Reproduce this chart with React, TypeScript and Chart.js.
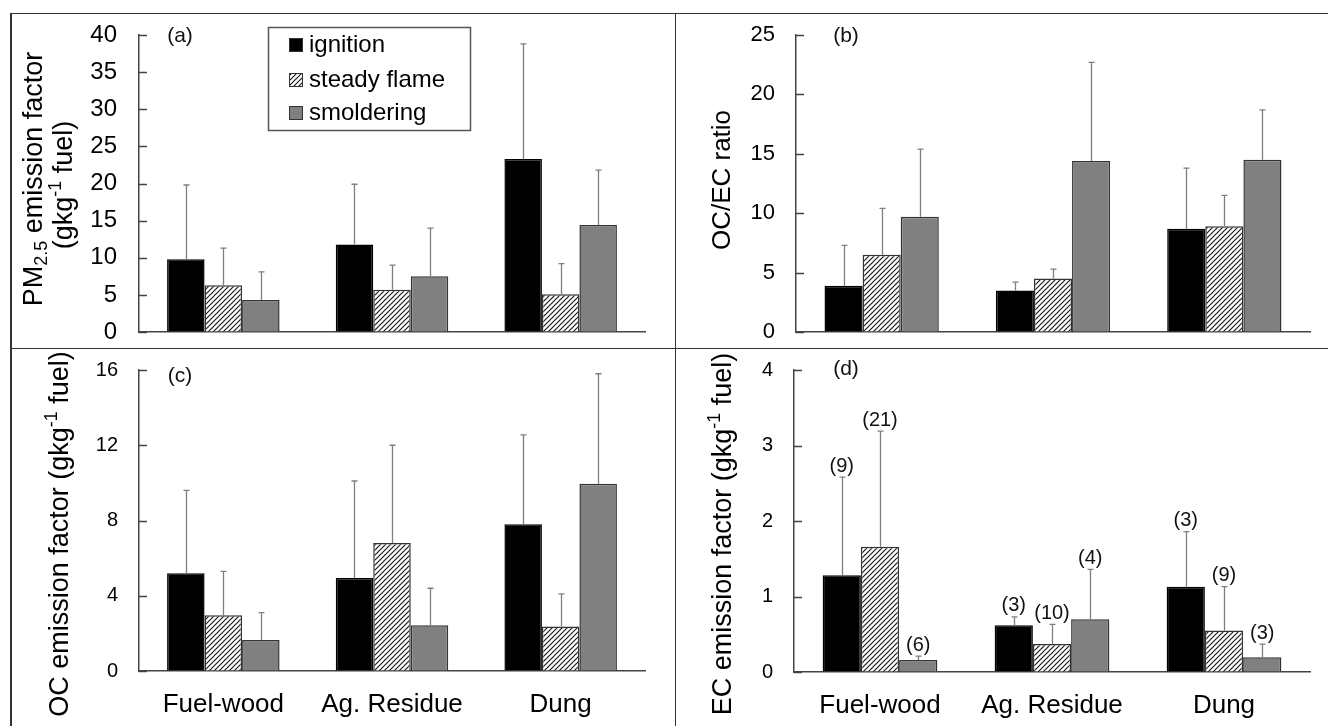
import React, { useEffect, useRef } from "react";
import { Chart, registerables } from "chart.js";

Chart.register(...registerables);

const FONT = "'Liberation Sans', Arial, Helvetica, sans-serif";

// ---------- data ----------
const categories = ["Fuel-wood", "Ag. Residue", "Dung"];
const seriesLabels = ["ignition", "steady flame", "smoldering"];

// (a) PM2.5 emission factor (g kg-1 fuel)
const pmIgnition = [9.8, 11.8, 23.3];
const pmSteady = [6.3, 5.7, 5.1];
const pmSmolder = [4.3, 7.5, 14.4];
const pmIgnitionSd = [10.0, 8.1, 15.5];
const pmSteadySd = [5.0, 3.3, 4.1];
const pmSmolderSd = [3.8, 6.5, 7.4];
const pmAxisMax = 40;
const pmAxisStep = 5;

// (b) OC/EC ratio
const ratioIgnition = [3.9, 3.5, 8.7];
const ratioSteady = [6.5, 4.5, 8.9];
const ratioSmolder = [9.7, 14.4, 14.5];
const ratioIgnitionSd = [3.4, 0.7, 5.1];
const ratioSteadySd = [3.9, 0.8, 2.6];
const ratioSmolderSd = [5.7, 8.3, 4.2];
const ratioAxisMax = 25;
const ratioAxisStep = 5;

// (c) OC emission factor
const ocIgnition = [5.2, 4.95, 7.8];
const ocSteady = [2.96, 6.8, 2.36];
const ocSmolder = [1.65, 2.43, 9.96];
const ocIgnitionSd = [4.4, 5.15, 4.75];
const ocSteadySd = [2.34, 5.2, 1.74];
const ocSmolderSd = [1.45, 1.97, 5.84];
const ocAxisMax = 16;
const ocAxisStep = 4;

// (d) EC emission factor
const ecIgnition = [1.28, 0.62, 1.13];
const ecSteady = [1.66, 0.37, 0.55];
const ecSmolder = [0.16, 0.7, 0.195];
const ecIgnitionSd = [1.3, 0.11, 0.73];
const ecSteadySd = [1.53, 0.26, 0.58];
const ecSmolderSd = [0.05, 0.66, 0.175];
const ecIgnitionN = [9, 3, 3];
const ecSteadyN = [21, 10, 9];
const ecSmolderN = [6, 4, 3];
const ecAxisMax = 4;
const ecAxisStep = 1;

// ---------- styling ----------
const IGN_COLOR = "#000000";
const SMOLD_COLOR = "#808080";
const AXIS_COLOR = "#444444";
const ERR_COLOR = "#7f7f7f";

type Seg = { t: string; s?: "sub" | "sup" };
type Box = { left: number; top: number; w: number; h: number };
type Area = { l: number; r: number; t: number; b: number };

type PanelSpec = {
  letter: string;
  letterPos: [number, number];
  series: number[][];
  errors: number[][];
  counts?: number[][];
  yMax: number;
  yStep: number;
  tickFont: number;
  tickPad: number;
  showX: boolean;
  canvas: Box;
  area: Area;
  titleLines: Seg[][];
  titleBaseX: number[];
  titleCenterY: number[];
  titleSize: number;
  legend?: boolean;
};

const panels: PanelSpec[] = [
  {
    letter: "(a)",
    letterPos: [180, 36],
    series: [pmIgnition, pmSteady, pmSmolder],
    errors: [pmIgnitionSd, pmSteadySd, pmSmolderSd],
    yMax: pmAxisMax,
    yStep: pmAxisStep,
    tickFont: 24,
    tickPad: 22,
    showX: false,
    canvas: { left: 11, top: 14, w: 663, h: 333 },
    area: { l: 139, r: 645, t: 35, b: 332 },
    titleLines: [
      [{ t: "PM" }, { t: "2.5", s: "sub" }, { t: " emission factor" }],
      [{ t: "(gkg" }, { t: "-1", s: "sup" }, { t: " fuel)" }],
    ],
    titleBaseX: [42, 72],
    titleCenterY: [179, 185],
    titleSize: 27,
    legend: true,
  },
  {
    letter: "(b)",
    letterPos: [846, 36],
    series: [ratioIgnition, ratioSteady, ratioSmolder],
    errors: [ratioIgnitionSd, ratioSteadySd, ratioSmolderSd],
    yMax: ratioAxisMax,
    yStep: ratioAxisStep,
    tickFont: 22,
    tickPad: 21,
    showX: false,
    canvas: { left: 676, top: 14, w: 652, h: 333 },
    area: { l: 796, r: 1310, t: 35, b: 332 },
    titleLines: [[{ t: "OC/EC ratio" }]],
    titleBaseX: [730],
    titleCenterY: [180],
    titleSize: 26,
  },
  {
    letter: "(c)",
    letterPos: [180, 376],
    series: [ocIgnition, ocSteady, ocSmolder],
    errors: [ocIgnitionSd, ocSteadySd, ocSmolderSd],
    yMax: ocAxisMax,
    yStep: ocAxisStep,
    tickFont: 20,
    tickPad: 21,
    showX: true,
    canvas: { left: 11, top: 349, w: 663, h: 377 },
    area: { l: 139, r: 645, t: 370, b: 671 },
    titleLines: [[{ t: "OC emission factor (gkg" }, { t: "-1", s: "sup" }, { t: " fuel)" }]],
    titleBaseX: [68],
    titleCenterY: [534],
    titleSize: 27,
  },
  {
    letter: "(d)",
    letterPos: [846, 369],
    series: [ecIgnition, ecSteady, ecSmolder],
    errors: [ecIgnitionSd, ecSteadySd, ecSmolderSd],
    counts: [ecIgnitionN, ecSteadyN, ecSmolderN],
    yMax: ecAxisMax,
    yStep: ecAxisStep,
    tickFont: 20,
    tickPad: 21,
    showX: true,
    canvas: { left: 676, top: 349, w: 652, h: 377 },
    area: { l: 794, r: 1310, t: 370, b: 672 },
    titleLines: [[{ t: "EC emission factor (gkg" }, { t: "-1", s: "sup" }, { t: " fuel)" }]],
    titleBaseX: [731],
    titleCenterY: [534],
    titleSize: 27,
  },
];

function makeHatch(ctx: CanvasRenderingContext2D): CanvasPattern {
  const s = 5;
  const c = document.createElement("canvas");
  c.width = s;
  c.height = s;
  const g = c.getContext("2d")!;
  g.fillStyle = "#ffffff";
  g.fillRect(0, 0, s, s);
  g.strokeStyle = "#1a1a1a";
  g.lineWidth = 1.2;
  g.beginPath();
  g.moveTo(0, s);
  g.lineTo(s, 0);
  g.moveTo(-1, 1);
  g.lineTo(1, -1);
  g.moveTo(s - 1, s + 1);
  g.lineTo(s + 1, s - 1);
  g.stroke();
  return ctx.createPattern(c, "repeat")!;
}

function drawRich(
  ctx: CanvasRenderingContext2D,
  segs: Seg[],
  baseX: number,
  centerY: number,
  size: number
) {
  ctx.save();
  ctx.translate(baseX, centerY);
  ctx.rotate(-Math.PI / 2);
  const small = Math.round(size * 0.65);
  const widths = segs.map((sg) => {
    ctx.font = `${sg.s ? small : size}px ${FONT}`;
    return ctx.measureText(sg.t).width;
  });
  const total = widths.reduce((a, b) => a + b, 0);
  let x = -total / 2;
  ctx.textBaseline = "alphabetic";
  ctx.textAlign = "left";
  ctx.fillStyle = "#000";
  segs.forEach((sg, i) => {
    ctx.font = `${sg.s ? small : size}px ${FONT}`;
    const dy = sg.s === "sub" ? size * 0.2 : sg.s === "sup" ? -size * 0.4 : 0;
    ctx.fillText(sg.t, x, dy);
    x += widths[i];
  });
  ctx.restore();
}

function Panel({ spec }: { spec: PanelSpec }) {
  const ref = useRef<HTMLCanvasElement>(null);
  useEffect(() => {
    const canvas = ref.current!;
    const ctx = canvas.getContext("2d")!;
    const hatch = makeHatch(ctx);
    const fills: (string | CanvasPattern)[] = [IGN_COLOR, hatch, SMOLD_COLOR];
    const borders = ["#000000", "#333333", "#333333"];
    const ox = spec.canvas.left;
    const oy = spec.canvas.top;
    const a = spec.area;
    const want = { l: a.l - ox, r: a.r - ox, t: a.t - oy, b: a.b - oy };
    const fit = { yWidth: want.l, xHeight: spec.canvas.h - want.b };

    const overlay = {
      id: "overlay",
      afterDatasetsDraw(chart: any) {
        const c = chart.ctx as CanvasRenderingContext2D;
        const ys = chart.scales.y;
        c.save();
        // error bars
        c.strokeStyle = ERR_COLOR;
        c.lineWidth = 1.3;
        spec.series.forEach((vals, i) => {
          const meta = chart.getDatasetMeta(i);
          meta.data.forEach((el: any, j: number) => {
            const x = Math.round(el.x) + 0.5;
            const top = ys.getPixelForValue(vals[j]);
            const end = ys.getPixelForValue(vals[j] + spec.errors[i][j]);
            c.beginPath();
            c.moveTo(x, top);
            c.lineTo(x, end);
            c.moveTo(x - 3, end);
            c.lineTo(x + 3, end);
            c.stroke();
          });
        });
        // counts
        if (spec.counts) {
          c.fillStyle = "#111";
          c.font = `20px ${FONT}`;
          c.textAlign = "center";
          c.textBaseline = "middle";
          spec.counts.forEach((ns, i) => {
            const meta = chart.getDatasetMeta(i);
            meta.data.forEach((el: any, j: number) => {
              const end = ys.getPixelForValue(spec.series[i][j] + spec.errors[i][j]);
              c.fillText(`(${ns[j]})`, el.x, end - 11);
            });
          });
        }
        c.restore();
      },
      afterDraw(chart: any) {
        const c = chart.ctx as CanvasRenderingContext2D;
        const ys = chart.scales.y;
        const ca = chart.chartArea;
        c.save();
        // inward tick marks
        c.strokeStyle = AXIS_COLOR;
        c.lineWidth = 1.3;
        c.beginPath();
        ys.ticks.forEach((t: any) => {
          const py = Math.round(ys.getPixelForValue(t.value)) + 0.5;
          c.moveTo(ca.left, py);
          c.lineTo(ca.left + 8, py);
        });
        c.stroke();
        // panel letter
        c.fillStyle = "#111";
        c.font = `21px ${FONT}`;
        c.textAlign = "center";
        c.textBaseline = "middle";
        c.fillText(spec.letter, spec.letterPos[0] - ox, spec.letterPos[1] - oy);
        // y title
        spec.titleLines.forEach((segs, k) => {
          drawRich(c, segs, spec.titleBaseX[k] - ox, spec.titleCenterY[k] - oy, spec.titleSize);
        });
        // legend
        if (spec.legend) {
          c.strokeStyle = "#555";
          c.lineWidth = 1.5;
          c.strokeRect(268 - ox + 0.5, 27 - oy + 0.5, 202, 103);
          const cy = [45, 80, 113];
          seriesLabels.forEach((lab, i) => {
            const y = cy[i] - oy;
            c.fillStyle = fills[i] as any;
            c.fillRect(289 - ox, y - 7, 14, 14);
            c.strokeStyle = "#333";
            c.lineWidth = 1;
            c.strokeRect(289 - ox + 0.5, y - 7 + 0.5, 13, 13);
            c.fillStyle = "#000";
            c.font = `24px ${FONT}`;
            c.textAlign = "left";
            c.textBaseline = "alphabetic";
            c.fillText(lab, 309 - ox, y + 7);
          });
        }
        c.restore();
      },
    };

    const chart: any = new Chart(canvas, {
      type: "bar",
      data: {
        labels: categories,
        datasets: spec.series.map((vals, i) => ({
          label: seriesLabels[i],
          data: vals,
          backgroundColor: fills[i] as any,
          borderColor: borders[i],
          borderWidth: 1.5,
          categoryPercentage: 0.667,
          barPercentage: 1.0,
        })),
      },
      options: {
        responsive: false,
        maintainAspectRatio: false,
        animation: false,
        events: [],
        layout: {
          autoPadding: false,
          padding: {
            left: 0,
            top: want.t,
            right: spec.canvas.w - want.r,
            bottom: 0,
          },
        },
        plugins: {
          legend: { display: false },
          tooltip: { enabled: false },
          title: { display: false },
        },
        scales: {
          x: {
            type: "category",
            offset: true,
            grid: {
              display: true,
              drawOnChartArea: false,
              drawTicks: true,
              tickLength: 18,
              tickColor: "rgba(0,0,0,0)",
              color: "rgba(0,0,0,0)",
            },
            border: { display: true, color: AXIS_COLOR, width: 1.5 },
            ticks: {
              display: spec.showX,
              color: "#000",
              font: { family: FONT, size: 26 },
              padding: 0,
              maxRotation: 0,
              autoSkip: false,
            },
            afterFit: (s: any) => {
              s.height = fit.xHeight;
            },
          },
          y: {
            min: 0,
            max: spec.yMax,
            grid: {
              display: true,
              drawOnChartArea: false,
              drawTicks: true,
              tickLength: spec.tickPad,
              tickColor: "rgba(0,0,0,0)",
              color: "rgba(0,0,0,0)",
            },
            border: { display: true, color: AXIS_COLOR, width: 1.5 },
            ticks: {
              stepSize: spec.yStep,
              color: "#000",
              font: { family: FONT, size: spec.tickFont },
              padding: 0,
            },
            afterFit: (s: any) => {
              s.width = fit.yWidth;
            },
          },
        },
      },
      plugins: [overlay],
    } as any);

    // align the plot area with the reference geometry
    for (let k = 0; k < 3; k++) {
      const ys = chart.scales.y;
      const ca = chart.chartArea;
      const topPx = ys.getPixelForValue(spec.yMax);
      const botPx = ys.getPixelForValue(0);
      const dTop = want.t - topPx;
      const dBot = botPx - want.b;
      const dLeft = want.l - ca.left;
      const dRight = ca.right - want.r;
      if (Math.abs(dTop) < 0.5 && Math.abs(dBot) < 0.5 && Math.abs(dLeft) < 0.5 && Math.abs(dRight) < 0.5) break;
      const pad = chart.config.options.layout.padding;
      pad.top = Math.max(0, pad.top + dTop);
      pad.right = Math.max(0, pad.right + dRight);
      fit.xHeight = Math.max(0, fit.xHeight + dBot);
      fit.yWidth = Math.max(0, fit.yWidth + dLeft);
      chart.update();
    }
    return () => chart.destroy();
  }, [spec]);

  return (
    <canvas
      ref={ref}
      width={spec.canvas.w}
      height={spec.canvas.h}
      style={{
        position: "absolute",
        left: spec.canvas.left,
        top: spec.canvas.top,
        width: spec.canvas.w,
        height: spec.canvas.h,
      }}
    />
  );
}

const lineStyle = (left: number, top: number, width: number, height: number): React.CSSProperties => ({
  position: "absolute",
  left,
  top,
  width,
  height,
  background: "#333",
});

export default function App() {
  return (
    <div
      style={{
        position: "absolute",
        left: 0,
        top: 0,
        width: 1328,
        height: 726,
        overflow: "hidden",
        background: "#fff",
      }}
    >
      {panels.map((p, i) => (
        <Panel key={i} spec={p} />
      ))}
      <div style={lineStyle(10, 12.5, 1320, 1.5)} />
      <div style={lineStyle(10, 12.5, 1.5, 720)} />
      <div style={lineStyle(674.5, 12.5, 1.5, 720)} />
      <div style={lineStyle(10, 347.5, 1320, 1.5)} />
    </div>
  );
}
